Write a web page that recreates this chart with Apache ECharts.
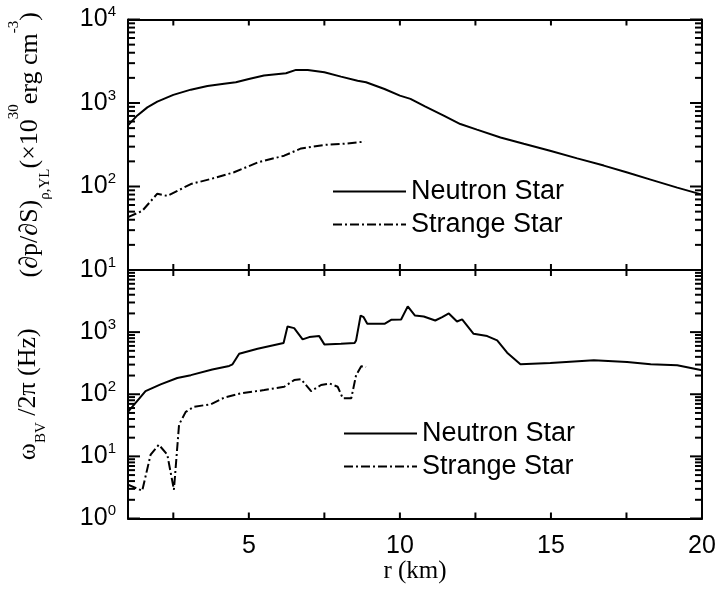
<!DOCTYPE html>
<html><head><meta charset="utf-8">
<script src="https://cdn.jsdelivr.net/npm/echarts@6/dist/echarts.min.js"></script>
<style>html,body{margin:0;padding:0;background:#fff}#c{width:718px;height:595px}</style>
</head><body><div id="c"></div>
<script>
// ---- data ----
const seriesNames = ['Neutron Star', 'Strange Star'];
// top panel: (dp/dS) in 1e30 erg cm^-3
const topNeutronR = [1.0,1.3,1.64,1.97,2.5,3.08,3.63,4.18,4.57,5.0,5.5,6.23,6.56,6.95,7.5,8.05,8.6,8.88,9.49,10.0,10.35,10.83,11.45,12.0,12.55,13.33,14.1,14.97,15.87,16.75,17.5,18.3,19.18,20.0];
const topNeutronV = [540,705,887,1040,1250,1445,1600,1705,1770,1940,2130,2270,2490,2490,2330,2070,1850,1770,1470,1225,1120,910,705,560,480,387,325,268,217,178,148,121,97,80];
const topStrangeR = [1.0,1.47,1.97,2.3,3.08,3.74,4.51,5.29,6.17,6.73,7.5,8.16,8.83];
const topStrangeV = [43,51,82,77,107,123,148,194,234,286,315,325,345];
// bottom panel: omega_BV / 2pi in Hz
const botNeutronR = [1.0,1.58,2.08,2.63,3.08,3.79,4.35,4.46,4.68,5.29,6.15,6.28,6.5,6.78,7.0,7.33,7.5,8.05,8.5,8.55,8.7,8.8,8.92,9.49,9.71,10.04,10.26,10.5,10.79,11.17,11.4,11.62,11.89,12.06,12.44,12.89,13.22,13.55,13.99,14.98,16.42,17.52,18.3,19.18,20.0];
const botNeutronV = [52,112,144,183,203,250,286,303,450,541,666,1230,1160,763,832,863,635,650,666,736,1850,1740,1360,1360,1575,1600,2600,1850,1780,1540,1740,2000,1480,1600,940,863,736,467,303,319,352,331,303,292,243];
const botStrangeR = [1.0,1.47,1.75,2.02,2.3,2.52,2.69,2.91,3.19,3.74,4.18,4.73,5.51,6.17,6.5,6.73,7.06,7.39,7.67,7.94,8.11,8.39,8.55,8.72,8.88];
const botStrangeV = [3.5,2.8,10.7,15.4,10.7,2.9,32.5,52,63,69,88,103,117,132,169,175,112,141,149,132,86,86,203,282,275];
// axis ticks / labels
const xTickValues = [2.5,5,7.5,10,12.5,15,17.5];
const xLabelValues = [5,10,15,20];
const topDecades = [1,2,3,4];     // 10^1 .. 10^4
const botDecades = [0,1,2,3,4];   // 10^0 .. 10^4
const minorMantissas = [2,3,4,5,6,7,8,9];

// ---- build ----
const pairs = (xs, ys) => xs.map((x, i) => [x, ys[i]]);
// tick marks (kind 0: x tick, 1: major y tick, 2: minor y tick), placed via the axes' own scales
function tickData(decades) {
  const out = [];
  xTickValues.forEach(v => out.push([v, 100, 0]));
  decades.forEach((k, i) => {
    out.push([10, Math.pow(10, k), 1]);
    if (i < decades.length - 1) minorMantissas.forEach(m => out.push([10, m * Math.pow(10, k), 2]));
  });
  return out;
}
function tickRender(params, api) {
  const cs = params.coordSys;
  const kind = api.value(2);
  const p = api.coord([api.value(0), api.value(1)]);
  const st = {stroke: '#000', lineWidth: 2, fill: null};
  if (kind === 0) {
    const px = p[0], L = 6;
    return {type: 'group', children: [
      {type: 'line', shape: {x1: px, y1: cs.y, x2: px, y2: cs.y + L}, style: st},
      {type: 'line', shape: {x1: px, y1: cs.y + cs.height, x2: px, y2: cs.y + cs.height - L}, style: {stroke: '#000', lineWidth: 2, fill: null}}
    ]};
  }
  const py = p[1], L = kind === 1 ? 12 : 7;
  return {type: 'group', children: [
    {type: 'line', shape: {x1: cs.x, y1: py, x2: cs.x + L, y2: py}, style: st},
    {type: 'line', shape: {x1: cs.x + cs.width, y1: py, x2: cs.x + cs.width - L, y2: py}, style: {stroke: '#000', lineWidth: 2, fill: null}}
  ]};
}
const sans = 'Liberation Sans';
const serif = 'Liberation Serif';
const labelRich = {
  b: {fontSize: 25, fontFamily: sans, color: '#000', lineHeight: 30},
  s: {fontSize: 15, fontFamily: sans, color: '#000', verticalAlign: 'top', lineHeight: 15}
};
function expFmt(skipTop) {
  return function (v) {
    const e = Math.round(Math.log10(v));
    if (skipTop && e === 4) return '';
    return '{b|10}{s|' + e + '}';
  };
}
function frame() { return {show: true, onZero: false, lineStyle: {color: '#000', width: 2}}; }
function xAx(grid, pos, labels) {
  return {
    type: 'value', gridIndex: grid, position: pos, min: 1, max: 20,
    axisLine: frame(), splitLine: {show: false}, axisTick: {show: false},
    axisLabel: labels ? {show: true, customValues: xLabelValues, fontSize: 25, fontFamily: sans, color: '#000', margin: 15} : {show: false},
    name: labels ? 'r (km)' : '', nameLocation: 'middle', nameGap: 38,
    nameTextStyle: {fontSize: 25, fontFamily: serif, color: '#000'}
  };
}
function yLog(grid, pos, min, labels, skipTop, name, rich, gap) {
  return {
    type: 'log', logBase: 10, gridIndex: grid, position: pos, min: min, max: 10000,
    axisLine: frame(), splitLine: {show: false}, axisTick: {show: false},
    axisLabel: labels ? {show: true, formatter: expFmt(skipTop), rich: labelRich, margin: 12} : {show: false},
    name: name || '', nameLocation: 'middle', nameRotate: 90, nameGap: gap || 0,
    nameTextStyle: rich ? {rich: rich} : {}
  };
}
const topRich = {
  m: {fontSize: 26, fontFamily: serif, color: '#000', lineHeight: 46},
  sub: {fontSize: 15, fontFamily: serif, color: '#000', verticalAlign: 'bottom', lineHeight: 16},
  sup: {fontSize: 15, fontFamily: serif, color: '#000', verticalAlign: 'top', lineHeight: 16}
};
const botRich = {
  m: {fontSize: 26, fontFamily: serif, color: '#000', lineHeight: 41},
  sub: {fontSize: 15, fontFamily: serif, color: '#000', verticalAlign: 'bottom', lineHeight: 16}
};
const topName = '{m|(∂p/∂S)}{sub|ρ,YL}{m|(×10}{sup|30}{m|erg cm}{sup|-3}{m|)}';
const botName = '{m|ω}{sub|BV}{m| /2π (Hz)}';

const lineSolid = {color: '#000', width: 2, type: 'solid'};
const lineDashDot = {color: '#000', width: 2, type: [9, 3, 2, 3]};
function ser(name, x, y, data, style) {
  return {name: name, type: 'line', xAxisIndex: x, yAxisIndex: y, data: data,
    symbol: 'none', showSymbol: false, lineStyle: style, itemStyle: {color: '#000'}, z: 3};
}
function ticks(x, y, decades) {
  return {type: 'custom', xAxisIndex: x, yAxisIndex: y, data: tickData(decades),
    encode: {x: 0, y: 1}, renderItem: tickRender, clip: false, silent: true, z: 10};
}
const legendText = {fontSize: 27, fontFamily: sans, color: '#000'};
const option = {
  animation: false,
  backgroundColor: '#fff',
  color: ['#000', '#000'],
  grid: [
    {left: 128, top: 19.5, right: 16, height: 250.5, containLabel: false, outerBoundsMode: 'none'},
    {left: 128, top: 270, right: 16, height: 248.5, containLabel: false, outerBoundsMode: 'none'}
  ],
  xAxis: [xAx(0, 'bottom', false), xAx(0, 'top', false), xAx(1, 'bottom', true), xAx(1, 'top', false)],
  yAxis: [
    yLog(0, 'left', 10, true, false, topName, topRich, 75),
    yLog(0, 'right', 10, false, false),
    yLog(1, 'left', 1, true, true, botName, botRich, 79),
    yLog(1, 'right', 1, false, false)
  ],
  legend: [
    {orient: 'vertical', left: 327, top: 173, itemWidth: 73, itemHeight: 14, itemGap: 6,
      selectedMode: false, textStyle: legendText, itemStyle: {opacity: 0}, data: seriesNames},
    {orient: 'vertical', left: 338, top: 415, itemWidth: 73, itemHeight: 14, itemGap: 6,
      selectedMode: false, textStyle: legendText, itemStyle: {opacity: 0}, data: seriesNames}
  ],
  series: [
    ser(seriesNames[0], 0, 0, pairs(topNeutronR, topNeutronV), lineSolid),
    ser(seriesNames[1], 0, 0, pairs(topStrangeR, topStrangeV), lineDashDot),
    ser(seriesNames[0], 2, 2, pairs(botNeutronR, botNeutronV), lineSolid),
    ser(seriesNames[1], 2, 2, pairs(botStrangeR, botStrangeV), lineDashDot),
    ticks(0, 0, topDecades),
    ticks(2, 2, botDecades)
  ]
};
const chart = echarts.init(document.getElementById('c'), null, {renderer: 'canvas'});
chart.setOption(option);
</script>
</body></html>
